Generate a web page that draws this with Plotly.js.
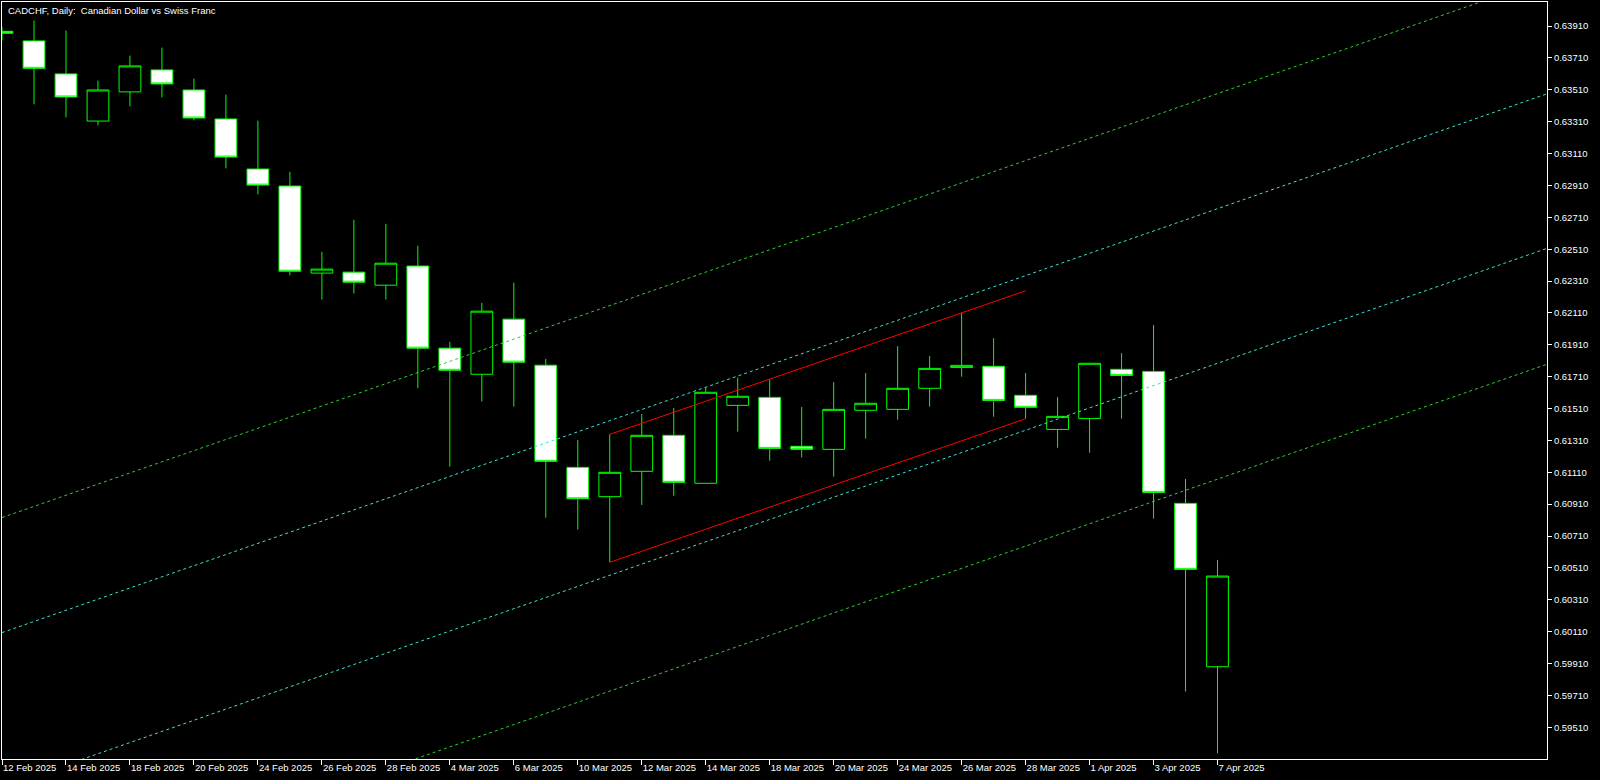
<!DOCTYPE html>
<html>
<head>
<meta charset="utf-8">
<script src="https://cdn.plot.ly/plotly-3.0.1.min.js"></script>
<style>
  html, body { margin: 0; padding: 0; background: #000; }
  #chart { width: 1600px; height: 780px; }
</style>
</head>
<body>
<div id="chart"></div>
<script>
// daily bars, CADCHF 12 Feb - 7 Apr 2025
const dates = [
  "12 Feb", "13 Feb", "14 Feb", "17 Feb", "18 Feb", "19 Feb", "20 Feb", "21 Feb",
  "24 Feb", "25 Feb", "26 Feb", "27 Feb", "28 Feb", "3 Mar", "4 Mar", "5 Mar",
  "6 Mar", "7 Mar", "10 Mar", "11 Mar", "12 Mar", "13 Mar", "14 Mar", "17 Mar",
  "18 Mar", "19 Mar", "20 Mar", "21 Mar", "24 Mar", "25 Mar", "26 Mar", "27 Mar",
  "28 Mar", "31 Mar", "1 Apr", "2 Apr", "3 Apr", "4 Apr", "7 Apr",
];
const opens = [
  0.63877, 0.63817, 0.6361, 0.63314, 0.63497, 0.63635, 0.63509, 0.63327,
  0.63013, 0.62906, 0.6236, 0.62366, 0.62284, 0.62404, 0.61889, 0.61725,
  0.62071, 0.61782, 0.61141, 0.60957, 0.61116, 0.61342, 0.61041, 0.6153,
  0.6158, 0.61273, 0.61254, 0.61499, 0.61505, 0.61637, 0.61768, 0.61775,
  0.61593, 0.61379, 0.61448, 0.61756, 0.61743, 0.60915, 0.5989,
];
const highs = [
  0.63905, 0.63945, 0.63882, 0.63568, 0.63725, 0.63775, 0.6358, 0.6348,
  0.63316, 0.62996, 0.62494, 0.62695, 0.62669, 0.62531, 0.61928, 0.62173,
  0.62299, 0.61822, 0.61313, 0.61348, 0.61476, 0.61513, 0.61643, 0.61704,
  0.61693, 0.6152, 0.61676, 0.61733, 0.61902, 0.6184, 0.62111, 0.61952,
  0.61733, 0.61582, 0.61794, 0.61858, 0.62034, 0.61068, 0.6056,
];
const lows = [
  0.6382, 0.63419, 0.63337, 0.63287, 0.63406, 0.63463, 0.63319, 0.63017,
  0.62854, 0.62345, 0.62194, 0.62232, 0.62194, 0.61637, 0.61145, 0.61554,
  0.61522, 0.60825, 0.6075, 0.60545, 0.60905, 0.60963, 0.61041, 0.61365,
  0.61183, 0.61202, 0.61083, 0.61321, 0.6144, 0.61522, 0.6171, 0.61459,
  0.61446, 0.61264, 0.61233, 0.61446, 0.60819, 0.59734, 0.59347,
];
const closes = [
  0.63865, 0.63645, 0.63465, 0.63509, 0.6366, 0.63547, 0.63333, 0.63088,
  0.62912, 0.62372, 0.62385, 0.62303, 0.62422, 0.61889, 0.6175, 0.62121,
  0.61801, 0.61179, 0.60944, 0.6111, 0.61342, 0.61047, 0.61612, 0.61587,
  0.6126, 0.61254, 0.61505, 0.61543, 0.61637, 0.61762, 0.61781, 0.61561,
  0.61518, 0.61461, 0.61794, 0.61718, 0.60984, 0.60501, 0.60459,
];

// price scale labels on the right
const priceTicks = [
  0.5951, 0.5971, 0.5991, 0.6011, 0.6031, 0.6051, 0.6071, 0.6091, 0.6111,
  0.6131, 0.6151, 0.6171, 0.6191, 0.6211, 0.6231, 0.6251, 0.6271, 0.6291,
  0.6311, 0.6331, 0.6351, 0.6371, 0.6391,
];

// red hand-drawn channel (bar index, price)
const redX = [19, 32];
const redUpper = [0.61348, 0.62249];
const redLower = [0.60545, 0.61446];

// dotted parallel channel lines, read at the left and right chart edges
const channelX = [0, 48.3];
const outerTop = [0.60826, 0.64207];
const innerTop = [0.60104, 0.63485];
const innerBottom = [0.59134, 0.62515];
const outerBottom = [0.58407, 0.61788];

const xIndex = dates.map((d, i) => i);
const dateTickVals = xIndex.filter((i) => i % 2 === 0);
const dateTickText = dateTickVals.map((i) => dates[i] + " 2025");

const GREEN = "#00ff00";
const font = { family: "Liberation Sans, Arial, sans-serif", size: 9.5, color: "#ffffff" };

function dotted(x, y, color) {
  return {
    x: x,
    y: y,
    mode: "lines",
    type: "scatter",
    line: { color: color, width: 1, dash: "3px,3px" },
    hoverinfo: "skip",
  };
}

function solid(x, y, color) {
  return {
    x: x,
    y: y,
    mode: "lines",
    type: "scatter",
    line: { color: color, width: 1 },
    hoverinfo: "skip",
  };
}

var data = [
  dotted(channelX, outerTop, "#32cd32"),
  dotted(channelX, innerTop, "#40e0d0"),
  dotted(channelX, innerBottom, "#40e0d0"),
  dotted(channelX, outerBottom, "#32cd32"),
  solid(redX, redUpper, "#ff0000"),
  solid(redX, redLower, "#ff0000"),
  {
    type: "candlestick",
    x: xIndex,
    open: opens,
    high: highs,
    low: lows,
    close: closes,
    whiskerwidth: 0,
    // MT4 scheme: bull bodies black, bear bodies white, lime outlines
    increasing: { line: { color: GREEN, width: 1 }, fillcolor: "#000000" },
    decreasing: { line: { color: GREEN, width: 1 }, fillcolor: "#ffffff" },
    hoverinfo: "skip",
  },
];

var layout = {
  width: 1600,
  height: 780,
  paper_bgcolor: "#000000",
  plot_bgcolor: "#000000",
  margin: { l: 2, r: 53, t: 2, b: 21 },
  showlegend: false,
  hovermode: false,
  boxgap: 0.32,
  boxgroupgap: 0,
  font: font,
  xaxis: {
    type: "linear",
    range: [0, 48.3],
    showgrid: false,
    zeroline: false,
    showline: true,
    mirror: true,
    linecolor: "#ffffff",
    linewidth: 1,
    ticks: "outside",
    ticklen: 5,
    tickcolor: "#ffffff",
    tickvals: dateTickVals,
    ticktext: dateTickText,
    ticklabelposition: "outside right",
    tickfont: font,
    rangeslider: { visible: false },
    fixedrange: true,
  },
  yaxis: {
    side: "right",
    range: [0.59311, 0.64061],
    showgrid: false,
    zeroline: false,
    showline: true,
    mirror: true,
    linecolor: "#ffffff",
    linewidth: 1,
    ticks: "outside",
    ticklen: 4,
    tickcolor: "#ffffff",
    tickvals: priceTicks,
    ticktext: priceTicks.map((p) => p.toFixed(5)),
    tickfont: font,
    fixedrange: true,
  },
  annotations: [
    {
      xref: "paper",
      yref: "paper",
      x: 0,
      y: 1,
      xanchor: "left",
      yanchor: "top",
      xshift: 4,
      yshift: -1,
      showarrow: false,
      text: "CADCHF, Daily:\u00a0 Canadian Dollar vs Swiss Franc",
      font: font,
    },
  ],
};

Plotly.newPlot("chart", data, layout, { displayModeBar: false, staticPlot: true });
</script>
</body>
</html>
